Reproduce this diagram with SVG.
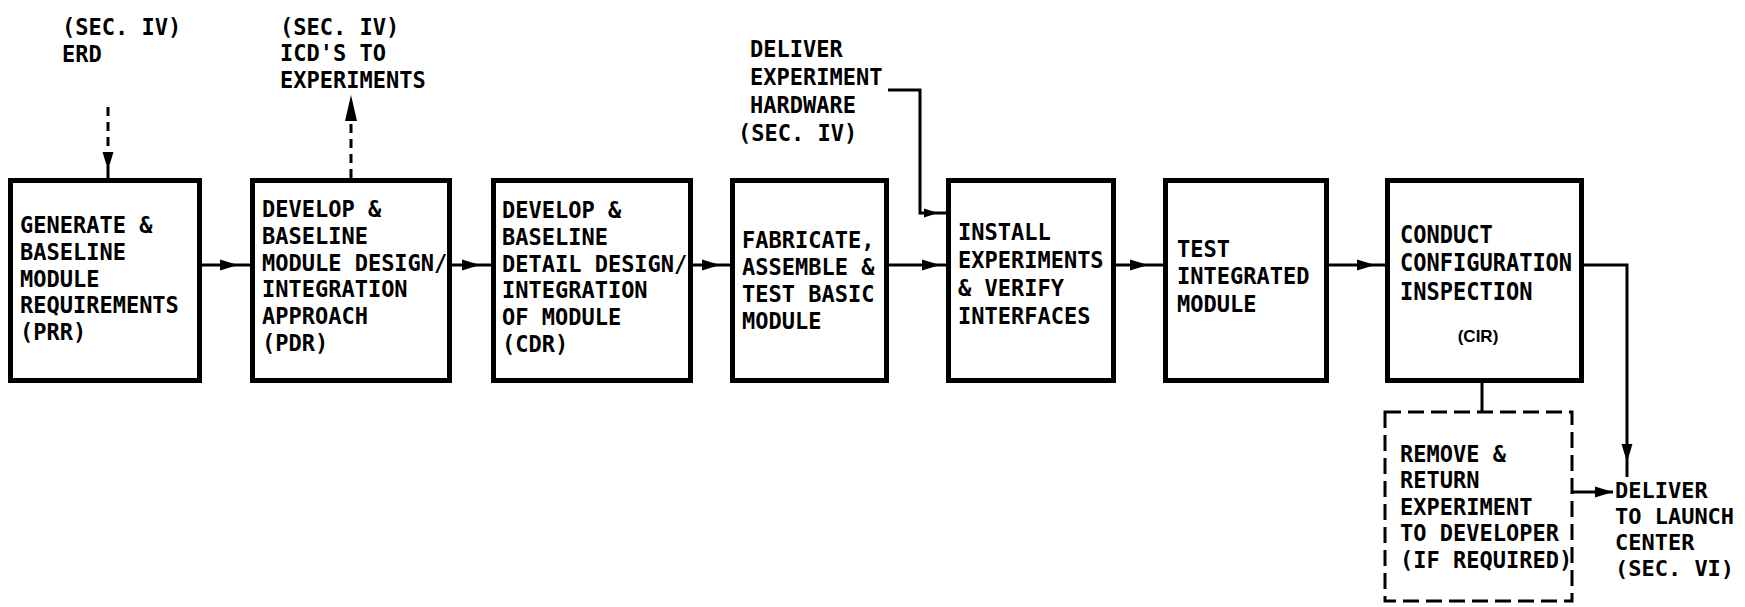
<svg xmlns="http://www.w3.org/2000/svg" xmlns:xlink="http://www.w3.org/1999/xlink" width="1745" height="607" viewBox="0 0 1745 607">
<style>
.box{fill:#fff;stroke:#000;stroke-width:5}
.dbox{fill:none;stroke:#000;stroke-width:3;stroke-dasharray:16 7}
.t{font-family:"DejaVu Sans Mono","Liberation Mono",monospace;font-weight:bold;font-size:22px;fill:#000}
.s{font-family:"Liberation Sans",Arial,sans-serif;font-weight:bold;font-size:17px;fill:#000}
.ln{stroke:#000;stroke-width:3;fill:none}
.dl{stroke-dasharray:9 6}
.ah{fill:#000}
</style>
<defs>
<path id="ar" d="M0,0 L-18,-5.5 L-18,5.5 Z"/>
</defs>
<rect width="1745" height="607" fill="#fff"/>

<g id="connectors">
  <line class="ln" x1="202" y1="265" x2="250" y2="265"/>
  <use xlink:href="#ar" class="ah" x="238" y="265"/>
  <line class="ln" x1="452" y1="265" x2="491" y2="265"/>
  <use xlink:href="#ar" class="ah" x="480" y="265"/>
  <line class="ln" x1="693" y1="265" x2="730" y2="265"/>
  <use xlink:href="#ar" class="ah" x="720" y="265"/>
  <line class="ln" x1="889" y1="265" x2="946" y2="265"/>
  <use xlink:href="#ar" class="ah" x="940" y="265"/>
  <line class="ln" x1="1116" y1="265" x2="1163" y2="265"/>
  <use xlink:href="#ar" class="ah" x="1148" y="265"/>
  <line class="ln" x1="1329" y1="265" x2="1385" y2="265"/>
  <use xlink:href="#ar" class="ah" x="1375" y="265"/>
  <path class="ln" d="M1584,265 H1627 V477"/>
  <use xlink:href="#ar" class="ah" transform="translate(1627,462) rotate(90)"/>
  <line class="ln" x1="1482" y1="383" x2="1482" y2="411"/>
  <line class="ln" x1="1573" y1="492" x2="1613" y2="492"/>
  <use xlink:href="#ar" class="ah" x="1613" y="492"/>
  <line class="ln dl" x1="108" y1="107" x2="108" y2="154"/>
  <use xlink:href="#ar" class="ah" transform="translate(108,170) rotate(90)"/>
  <line class="ln" x1="108" y1="166" x2="108" y2="179"/>
  <line class="ln dl" x1="351" y1="178" x2="351" y2="120"/>
  <path class="ah" d="M351,95 L345,121 L357,121 Z"/>
  <path class="ln" d="M888,90 H920 V213 H946"/>
  <path class="ah" d="M938,213 L924,208.5 L924,217.5 Z"/>
</g>

<g id="label-erd">
  <text class="t" transform="translate(62,35) scale(1,1.04)"><tspan x="0" y="0">(SEC. IV)</tspan><tspan x="0" dy="25.96">ERD</tspan></text>
</g>
<g id="label-icd">
  <text class="t" transform="translate(280,35) scale(1,1.023)"><tspan x="0" y="0">(SEC. IV)</tspan><tspan x="0" dy="25.9">ICD'S TO</tspan><tspan x="0" dy="25.9">EXPERIMENTS</tspan></text>
</g>
<g id="label-hw">
  <text class="t" transform="translate(750,57) scale(1,1.082)"><tspan x="0" y="0">DELIVER</tspan><tspan x="0" dy="25.88">EXPERIMENT</tspan><tspan x="0" dy="25.88">HARDWARE</tspan><tspan x="-12" dy="25.88">(SEC. IV)</tspan></text>
</g>

<g id="node-prr">
  <rect class="box" x="10.5" y="180.5" width="189" height="200"/>
  <text class="t" transform="translate(20,233) scale(1,1.035)"><tspan x="0" y="0">GENERATE &amp;</tspan><tspan x="0" dy="25.89">BASELINE</tspan><tspan x="0" dy="25.89">MODULE</tspan><tspan x="0" dy="25.89">REQUIREMENTS</tspan><tspan x="0" dy="25.89">(PRR)</tspan></text>
</g>
<g id="node-pdr">
  <rect class="box" x="252.5" y="180.5" width="197" height="200"/>
  <text class="t" transform="translate(262,217) scale(1,1.035)"><tspan x="0" y="0">DEVELOP &amp;</tspan><tspan x="0" dy="25.89">BASELINE</tspan><tspan x="0" dy="25.89">MODULE DESIGN/</tspan><tspan x="0" dy="25.89">INTEGRATION</tspan><tspan x="0" dy="25.89">APPROACH</tspan><tspan x="0" dy="25.89">(PDR)</tspan></text>
</g>
<g id="node-cdr">
  <rect class="box" x="493.5" y="180.5" width="197" height="200"/>
  <text class="t" transform="translate(502,218) scale(1,1.035)"><tspan x="0" y="0">DEVELOP &amp;</tspan><tspan x="0" dy="25.89">BASELINE</tspan><tspan x="0" dy="25.89">DETAIL DESIGN/</tspan><tspan x="0" dy="25.89">INTEGRATION</tspan><tspan x="0" dy="25.89">OF MODULE</tspan><tspan x="0" dy="25.89">(CDR)</tspan></text>
</g>
<g id="node-fab">
  <rect class="box" x="732.5" y="180.5" width="154" height="200"/>
  <text class="t" transform="translate(742,248) scale(1,1.043)"><tspan x="0" y="0">FABRICATE,</tspan><tspan x="0" dy="25.89">ASSEMBLE &amp;</tspan><tspan x="0" dy="25.89">TEST BASIC</tspan><tspan x="0" dy="25.89">MODULE</tspan></text>
</g>
<g id="node-install">
  <rect class="box" x="948.5" y="180.5" width="165" height="200"/>
  <text class="t" transform="translate(958,240) scale(1,1.082)"><tspan x="0" y="0">INSTALL</tspan><tspan x="0" dy="25.88">EXPERIMENTS</tspan><tspan x="0" dy="25.88">&amp; VERIFY</tspan><tspan x="0" dy="25.88">INTERFACES</tspan></text>
</g>
<g id="node-test">
  <rect class="box" x="1165.5" y="180.5" width="161" height="200"/>
  <text class="t" transform="translate(1177,257) scale(1,1.062)"><tspan x="0" y="0">TEST</tspan><tspan x="0" dy="25.89">INTEGRATED</tspan><tspan x="0" dy="25.89">MODULE</tspan></text>
</g>
<g id="node-cir">
  <rect class="box" x="1387.5" y="180.5" width="194" height="200"/>
  <text class="t" transform="translate(1400,243) scale(1,1.101)"><tspan x="0" y="0">CONDUCT</tspan><tspan x="0" dy="25.89">CONFIGURATION</tspan><tspan x="0" dy="25.89">INSPECTION</tspan></text>
  <text class="s" x="1478" y="342" text-anchor="middle">(CIR)</text>
</g>
<g id="node-remove">
  <rect class="dbox" x="1385" y="412" width="187" height="189"/>
  <text class="t" transform="translate(1400,462) scale(1,1.023)"><tspan x="0" y="0">REMOVE &amp;</tspan><tspan x="0" dy="25.9">RETURN</tspan><tspan x="0" dy="25.9">EXPERIMENT</tspan><tspan x="0" dy="25.9">TO DEVELOPER</tspan><tspan x="0" dy="25.9">(IF REQUIRED)</tspan></text>
</g>
<g id="node-deliver">
  <text class="t" transform="translate(1615,498) scale(1,1.0035)"><tspan x="0" y="0">DELIVER</tspan><tspan x="0" dy="25.91">TO LAUNCH</tspan><tspan x="0" dy="25.91">CENTER</tspan><tspan x="0" dy="25.91">(SEC. VI)</tspan></text>
</g>
</svg>
